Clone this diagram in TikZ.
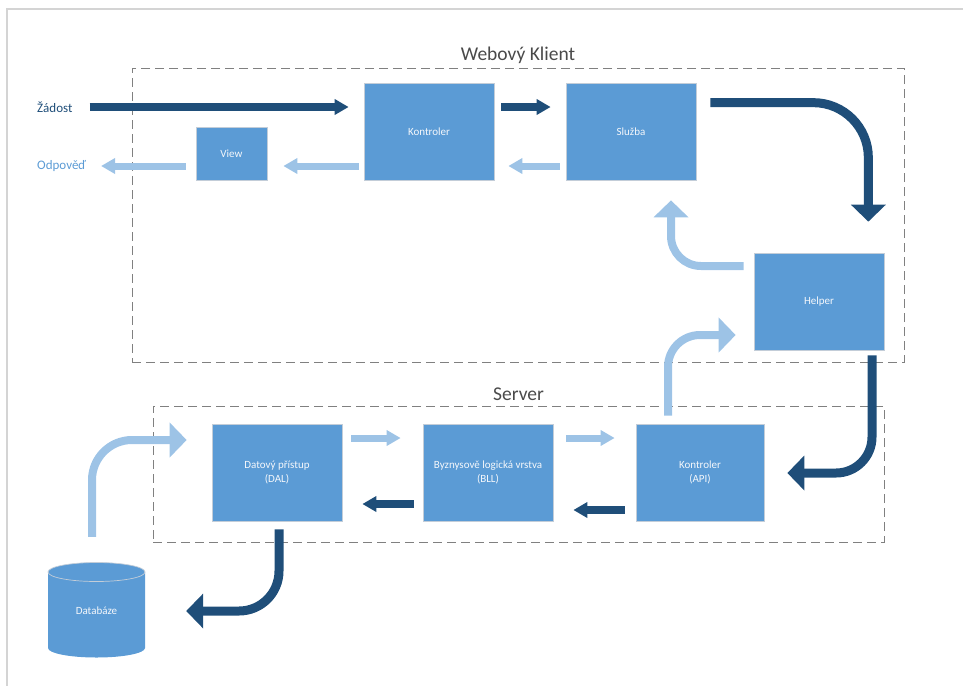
\documentclass[tikz,border=0pt]{standalone}
\usepackage{fontspec}
\setmainfont{Carlito}
\usetikzlibrary{arrows.meta,calc}

\definecolor{darkflow}{HTML}{1F4E79}
\definecolor{lightflow}{HTML}{9DC3E6}
\definecolor{boxfill}{HTML}{5B9BD5}
\definecolor{boxedge}{HTML}{C3CDD8}
\definecolor{boxtext}{HTML}{F4F7FB}
\definecolor{groupedge}{HTML}{808080}
\definecolor{titlegray}{HTML}{4A4A4A}
\definecolor{pageedge}{HTML}{D4D4D4}
\definecolor{outtext}{HTML}{5B9BD5}

\begin{document}
\begin{tikzpicture}[x=1pt,y=-1pt,
  box/.style={draw=boxedge, line width=0.7pt, fill=boxfill, text=boxtext,
    font=\fontsize{11}{13.5}\selectfont, align=center, inner sep=0pt,
    minimum width=130pt, minimum height=97pt},
  group/.style={draw=groupedge, line width=1pt, dash pattern=on 9pt off 5pt,
    inner sep=0pt},
  grouptitle/.style={font=\fontsize{19.5}{22}\selectfont, text=titlegray,
    anchor=base, inner sep=0pt},
  sidetext/.style={font=\fontsize{13}{15}\selectfont, inner sep=0pt, anchor=west},
  fwd/.style={draw=darkflow, line width=8pt, -{Triangle[width=15pt,length=14pt]}},
  back/.style={draw=lightflow, line width=7pt, -{Triangle[width=15pt,length=14pt]}},
  fwdbend/.style={draw=darkflow, line width=9pt, rounded corners=#1,
    -{Triangle[width=34pt,length=17pt]}},
  backbend/.style={draw=lightflow, line width=8pt, rounded corners=#1,
    -{Triangle[width=34pt,length=17pt]}}
]
\useasboundingbox (0,0) rectangle (963,686);

% page edge
\draw[pageedge, line width=1.5pt] (963,9) -- (7,9) -- (7,686);

% layer frames
\node[group, minimum width=772pt, minimum height=294pt] (client) at (518,215) {};
\node[grouptitle] (clienttitle) at ($(client.north)+(0,-7)$) {Webový Klient};
\node[group, minimum width=731pt, minimum height=136pt] (server) at (518.5,474) {};
\node[grouptitle] (servertitle) at ($(server.north)+(0,-5)$) {Server};

% client components
\node[box] (kon) at (429,131.5) {Kontroler};
\node[box, minimum width=71pt, minimum height=53pt] (view) at (231.5,153.5) {View};
\node[box] (slu) at (631,131.5) {Služba};
\node[box] (hel) at (819,301.5) {Helper};

% server components
\node[box, minimum width=128pt] (api) at (700,472.5) {Kontroler\\(API)};
\node[box] (bll) at (488,472.5) {Byznysově logická vrstva\\(BLL)};
\node[box] (dal) at (277,472.5) {Datový přístup\\(DAL)};

% database cylinder
\fill[boxfill] (48,572) -- (48,648)
  arc[start angle=180, end angle=360, x radius=48.5pt, y radius=9.5pt]
  -- (145,572)
  arc[start angle=0, end angle=180, x radius=48.5pt, y radius=9.5pt] -- cycle;
\draw[boxedge, line width=0.7pt] (48,572)
  arc[start angle=180, end angle=540, x radius=48.5pt, y radius=9.5pt];
\node[text=boxtext, font=\fontsize{11}{13.5}\selectfont, inner sep=0pt,
  minimum width=97pt, minimum height=95pt] (db) at (96.5,610.5) {Databáze};

% request / response labels
\node[sidetext, text=darkflow] (zad) at (37,107) {Žádost};
\node[sidetext, text=outtext] (odp) at (37,166) {Odpověď};

% request flow
\draw[fwd] ([xshift=17pt]zad.east) -- ($(kon.west |- zad.east)+(-15,0)$);
\draw[fwd] ($(kon.east)+(7,-24.5)$) -- ($(slu.west)+(-15,-24.5)$);
\draw[fwdbend=55pt] ($(slu.north east)+(14,20)$) -| ($(hel.north east)+(-16,-31)$);
\draw[fwdbend=36pt] ($(hel.south)+(53,5)$) |- ($(api.east)+(23,0.5)$);
\draw[fwd] ($(api.west)+(-11,37.5)$) -- ($(bll.east)+(20,37.5)$);
\draw[fwd] ($(bll.west)+(-9,31.5)$) -- ($(dal.east)+(20,31.5)$);
\draw[fwdbend=40pt] ($(dal.south)+(2,8)$) |- ($(db.east)+(41,0.5)$);

% response flow
\draw[backbend=40pt] ($(db.north)+(-4.5,-26)$) |- ($(dal.west)+(-25,-32.5)$);
\draw[back] ($(dal.east)+(9,-34.5)$) -- ($(bll.west)+(-22,-34.5)$);
\draw[back] ($(bll.east)+(13,-34.5)$) -- ($(api.west)+(-21,-34.5)$);
\draw[backbend=32pt] ($(api.north)+(-32,-8)$) |- ($(hel.west)+(-18,33.5)$);
\draw[backbend=30pt] ($(hel.west)+(-10,-35.5)$) -| ($(slu.south)+(40,20)$);
\draw[back] ($(slu.west)+(-6,34.5)$) -- ($(kon.east)+(14,34.5)$);
\draw[back] ($(kon.west)+(-5,34.5)$) -- ($(view.east)+(16,12.5)$);
\draw[back] ($(view.west)+(-10,12.5)$) -- ($(odp.east)+(15,0)$);
\end{tikzpicture}
\end{document}
